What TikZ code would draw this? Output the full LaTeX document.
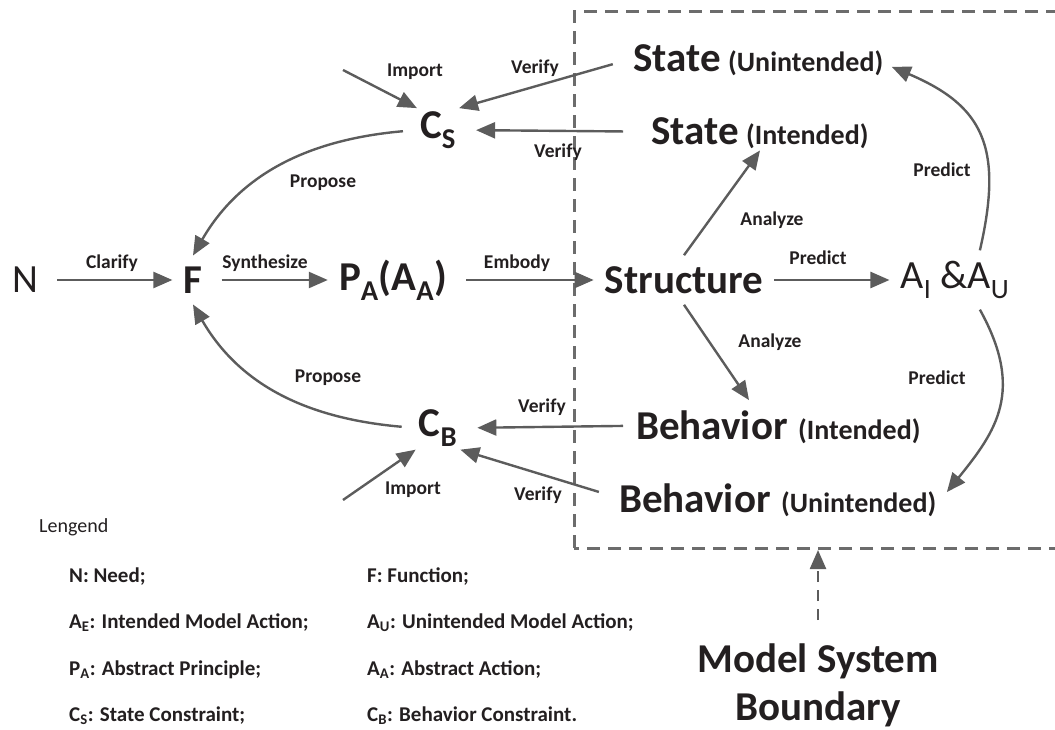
\documentclass[tikz,border=0pt]{standalone}
\usepackage{fontspec}
\setmainfont{Carlito}
\usepackage{tikz}
\usetikzlibrary{arrows.meta,positioning}

\definecolor{linegray}{RGB}{92,92,92}
\definecolor{boxgray}{RGB}{108,108,108}
\definecolor{inkblack}{RGB}{35,31,32}

\begin{document}
\begin{tikzpicture}[->,>={Triangle[length=19pt,width=16pt]},x=1pt,y=1pt,
                    line width=2.4pt,color=linegray]
  \tikzstyle{every node}=[text=inkblack]
  \tikzstyle{big}=[font=\fontsize{41}{44}\selectfont\bfseries,inner sep=10pt]
  \tikzstyle{plain}=[font=\fontsize{40}{44}\selectfont,inner sep=10pt]
  \tikzstyle{word}=[font=\fontsize{41}{44}\selectfont\bfseries,anchor=base west,inner sep=0pt]
  \tikzstyle{paren}=[font=\fontsize{28}{30}\selectfont\bfseries,anchor=base west,inner sep=0pt]
  \tikzstyle{lbl}=[font=\fontsize{19.5}{22}\selectfont\bfseries]
  \tikzstyle{legend}=[font=\fontsize{21}{24}\selectfont\bfseries,anchor=west,inner sep=0pt]

  \useasboundingbox (0,0) rectangle (1055,729);

  % model system boundary
  \draw[-,color=boxgray,line width=3pt,dash pattern=on 13pt off 8pt]
       (574,181) rectangle (1080,717);

  % main row
  \node[plain] (n)  at (25,449)  {N};
  \node[big]   (f)  at (193,449) {F};
  \node[big]   (pa) at (393,449) {P\textsubscript{A}(A\textsubscript{A})};
  \node[big]   (st) at (684,449) {Structure};
  \node[plain] (aa) at (955,449) {A\textsubscript{I} \&A\textsubscript{U}};

  % constraints
  \node[big,inner sep=2pt] (cs) at (438,599) {C\textsubscript{S}};
  \node[big,inner sep=2pt] (cb) at (438,301) {C\textsubscript{B}};

  % states and behaviors
  \node[word]  (su)  at (632,657) {State};
  \node[paren] (sup) at (727,657) {(Unintended)};
  \node[word]  (si)  at (650,584) {State};
  \node[paren] (sip) at (745,584) {(Intended)};
  \node[word]  (bi)  at (635,289) {Behavior};
  \node[paren] (bip) at (797,289) {(Intended)};
  \node[word]  (bu)  at (618,217) {Behavior};
  \node[paren] (bup) at (780,217) {(Unintended)};

  \coordinate (ics) at (343,659);
  \coordinate (icb) at (343,229);

  \node[font=\fontsize{41}{48}\selectfont\bfseries,align=center,inner sep=2pt]
       (bnd) at (818,44) {Model System\\Boundary};
  \coordinate (bdy) at (818,179);

  % arrows
  \draw[shorten <=8pt] (n) -- (f);
  \draw[shorten <=8pt] (f) -- (pa);
  \draw[shorten <=8pt] (pa) -- (st);
  \draw (st) -- (aa);
  \draw (st.north) -- ([xshift=15pt]sip.south west);
  \draw[shorten >=12pt] (st.south) -- ([xshift=-33pt]bi.north east);
  \draw[shorten >=8pt] (aa.50) to[out=77,in=-23,looseness=1.3] (sup.east);
  \draw[shorten >=15pt] (aa.-50) to[out=-61,in=51,looseness=1.2] (bup.east);

  \draw[shorten <=20pt] (su.west) -- (cs.north east);
  \draw[shorten <=27pt,shorten >=17pt] (si.west) -- (cs.east);
  \draw (ics) -- (cs.north west);
  \draw[shorten <=14pt] (cs.west) to[out=185,in=60] (f.north);

  \draw[shorten <=12pt,shorten >=17pt] (bi.west) -- (cb.east);
  \draw[shorten <=20pt] (bu.west) -- (cb.south east);
  \draw (icb) -- (cb.south west);
  \draw[shorten <=14pt] (cb.west) to[out=175,in=-60] (f.south);

  \draw[dash pattern=on 11pt off 8pt,shorten <=20pt] (bnd.north) -- (bdy);

  % connector labels
  \node[lbl] (clar) at (112,466) {Clarify};
  \node[lbl] (syn)  at (265,466) {Synthesize};
  \node[lbl] (emb)  at (517,466) {Embody};
  \node[lbl] (prm)  at (818,471) {Predict};
  \node[lbl] (anu)  at (772,509) {Analyze};
  \node[lbl] (anl)  at (770,387) {Analyze};
  \node[lbl] (pru)  at (942,559) {Predict};
  \node[lbl] (prl)  at (937,351) {Predict};
  \node[lbl] (ims)  at (415,657) {Import};
  \node[lbl] (vsu)  at (535,661) {Verify};
  \node[lbl] (vsi)  at (558,577) {Verify};
  \node[lbl] (pru2) at (323,546) {Propose};
  \node[lbl] (prl2) at (328,351) {Propose};
  \node[lbl] (vbi)  at (542,322) {Verify};
  \node[lbl] (vbu)  at (538,234) {Verify};
  \node[lbl] (imb)  at (413,239) {Import};

  % legend
  \node[legend,font=\fontsize{20}{24}\selectfont] (lg) at (38,202) {Lengend};
  \node[legend] (lgn)  at (68,152)  {N: Need;};
  \node[legend] (lgf)  at (366,152) {F: Function;};
  \node[legend] (lgae) at (68,106)  {A\textsubscript{E}: Intended Model Action;};
  \node[legend] (lgau) at (366,106) {A\textsubscript{U}: Unintended Model Action;};
  \node[legend] (lgpa) at (68,59)   {P\textsubscript{A}: Abstract Principle;};
  \node[legend] (lgaa) at (366,59)  {A\textsubscript{A}: Abstract Action;};
  \node[legend] (lgcs) at (68,13)   {C\textsubscript{S}: State Constraint;};
  \node[legend] (lgcb) at (366,13)  {C\textsubscript{B}: Behavior Constraint.};
\end{tikzpicture}
\end{document}
